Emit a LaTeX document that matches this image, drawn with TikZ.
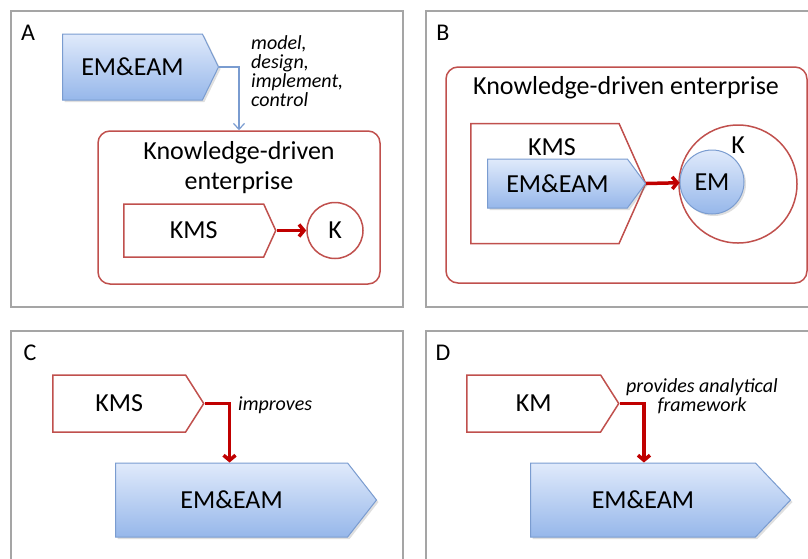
\documentclass[tikz,border=0pt]{standalone}
\usepackage{fontspec}
\setmainfont{Carlito}
\usetikzlibrary{positioning, arrows.meta, shapes.symbols, shadows}

\definecolor{paneline}{RGB}{165,165,165}
\definecolor{boxred}{RGB}{192,80,77}
\definecolor{arrowred}{RGB}{192,0,0}
\definecolor{bluetop}{RGB}{224,234,251}
\definecolor{bluebot}{RGB}{150,183,234}
\definecolor{blueline}{RGB}{122,156,208}

\begin{document}
\begin{tikzpicture}
            [x=1pt, y=-1pt,
             panel/.style={draw=paneline, line width=1.2pt},
             letter/.style={font=\fontsize{24}{26}\selectfont, inner sep=0pt},
             txt/.style={font=\fontsize{26}{30}\selectfont},
             note/.style={font=\fontsize{20}{19}\selectfont\itshape, inner sep=0pt},
             enterprise/.style={draw=boxred, line width=1.5pt, rounded corners=12pt, inner sep=0pt},
             pointer/.style={signal, signal to=east, inner sep=0pt, txt},
             redsig/.style={pointer, draw=boxred, line width=1.5pt, fill=white},
             bluesig/.style={pointer, draw=blueline, line width=1pt, top color=bluetop, bottom color=bluebot,
                             drop shadow={opacity=0.25, shadow xshift=2pt, shadow yshift=-2pt}},
             ring/.style={circle, draw=boxred, line width=1.5pt, inner sep=0pt, txt},
             bluering/.style={circle, draw=blueline, line width=1pt, inner sep=0pt, txt, top color=bluetop, bottom color=bluebot,
                             drop shadow={opacity=0.25, shadow xshift=2pt, shadow yshift=-2pt}},
             redarrow/.style={draw=arrowred, line width=3.5pt, -{Straight Barb[length=5pt, width=12pt]}},
             bluearrow/.style={draw=blueline, line width=1.2pt, -{Straight Barb[length=6pt, width=11pt]}}]
            \useasboundingbox (0,0) rectangle (808,558);
            \clip (0,0) rectangle (808,558);

            % panels
            \draw[panel] (11,11) rectangle (403,307);
            \draw[panel] (426,11) rectangle (830,307);
            \draw[panel] (11,331) rectangle (403,580);
            \draw[panel] (426,331) rectangle (830,580);
            \node[letter] (labA) at (28,33) {A};
            \node[letter] (labB) at (443,33) {B};
            \node[letter] (labC) at (30,353) {C};
            \node[letter] (labD) at (443,353) {D};

            % A
            \node[bluesig, anchor=west, minimum width=156, minimum height=66, signal pointer angle=128] (emA) at (62,67) {EM\&EAM};
            \node[note, anchor=west, align=left] (noteA) at (251,71) {model,\\design,\\implement,\\control};
            \node[enterprise, minimum width=282, minimum height=153] (entA) at (239,207.5) {};
            \node[txt, align=center] (titleA) at (239,168) {Knowledge-driven\\enterprise};
            \node[redsig, anchor=west, minimum width=152, minimum height=53, signal pointer angle=131] (kmsA) at (123,230.5) {KMS};
            \node[ring, minimum size=56] (kA) at (335,230.5) {K};
            \draw[bluearrow] (emA.east) -| (entA.north);
            \draw[redarrow] (kmsA.east) -- (kA);

            % B
            \node[enterprise, minimum width=361, minimum height=216] (entB) at (626.5,175) {};
            \node[txt] (titleB) at (626,88) {Knowledge-driven enterprise};
            \node[redsig, anchor=west, minimum width=175, minimum height=120, signal pointer angle=132] (kmsB) at (470,183.5) {};
            \node[txt] (kmsBlab) at (552,147) {KMS};
            \node[bluesig, anchor=west, minimum width=158, minimum height=49, signal pointer angle=107] (emB) at (487,183.5) {EM\&EAM};
            \node[ring, minimum size=118] (kB) at (738,184) {};
            \node[txt] (kBlab) at (738,145) {K};
            \node[bluering, minimum size=64] (emcB) at (712,182) {EM};
            \draw[redarrow] (emB.east) -- (emcB);

            % C
            \node[redsig, anchor=west, minimum width=151, minimum height=57, signal pointer angle=115] (kmsC) at (52,403.5) {KMS};
            \node[bluesig, anchor=west, minimum width=261, minimum height=74, signal pointer angle=104] (emC) at (115,500) {EM\&EAM};
            \node[note, anchor=west] (noteC) at (238,405) {improves};
            \draw[redarrow] (kmsC.east) -| ([xshift=-2pt]emC.north);

            % D
            \node[redsig, anchor=west, minimum width=152, minimum height=57, signal pointer angle=115] (kmD) at (466,403.5) {KM};
            \node[bluesig, anchor=west, minimum width=260, minimum height=74, signal pointer angle=93] (emD) at (530,500) {EM\&EAM};
            \node[note, align=center] (noteD) at (702,396) {provides analytical\\framework};
            \draw[redarrow] (kmD.east) -| ([xshift=1pt]emD.north);
\end{tikzpicture}
\end{document}
